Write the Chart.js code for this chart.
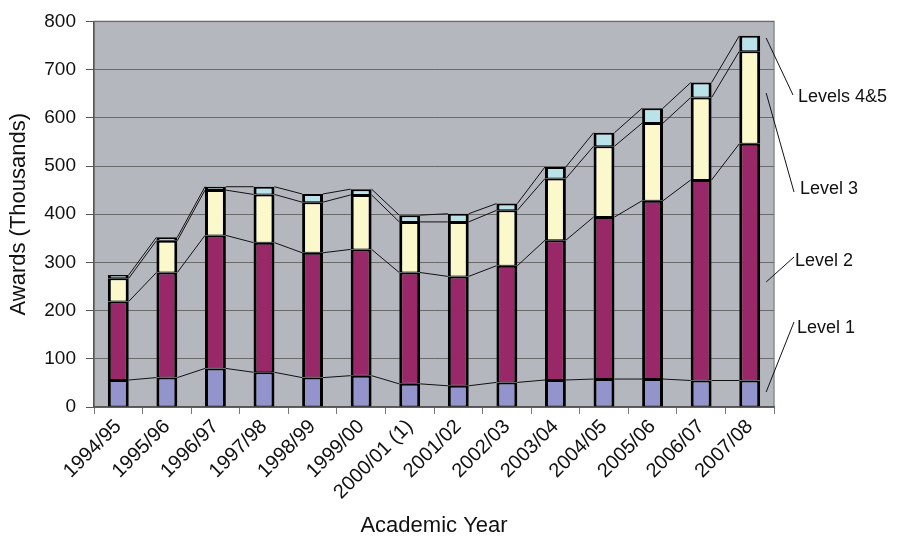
<!DOCTYPE html>
<html>
<head>
<meta charset="utf-8">
<script src="https://cdn.jsdelivr.net/npm/chart.js@4/dist/chart.umd.min.js"></script>
<style>
  html, body { margin: 0; padding: 0; background: #ffffff; }
  #wrap { width: 905px; height: 543px; position: relative; }
</style>
</head>
<body>
<div id="wrap"><canvas id="c" width="905" height="543"></canvas></div>
<script>
// ---- data (thousands of awards) ----
const categories = ["1994/95","1995/96","1996/97","1997/98","1998/99","1999/00","2000/01 (1)","2001/02","2002/03","2003/04","2004/05","2005/06","2006/07","2007/08"];
const level1    = [56, 61, 80, 72, 61, 65, 48, 44, 51, 56, 58, 58, 55, 55];
const level2    = [163, 218, 276, 269, 259, 262, 231, 227, 242, 290, 336, 370, 416, 491];
const level3    = [48, 66, 94, 100, 105, 113, 105, 113, 115, 128, 147, 161, 171, 192];
const level45   = [7, 7, 7, 16, 17, 12, 14, 17, 14, 24, 28, 31, 31, 32];
const seriesNames = ["Level 1", "Level 2", "Level 3", "Levels 4&5"];
const yTicks = [0, 100, 200, 300, 400, 500, 600, 700, 800];

const FONT = "'Liberation Sans', Arial, sans-serif";

// plot-area background + border
const bgPlugin = {
  id: 'bg',
  beforeDraw(chart) {
    const {ctx, chartArea: a} = chart;
    ctx.save();
    ctx.fillStyle = '#b4b7be';
    ctx.fillRect(a.left, a.top, a.right - a.left, a.bottom - a.top);
    ctx.strokeStyle = '#8c8c8c';
    ctx.lineWidth = 1.5;
    ctx.strokeRect(a.left, a.top, a.right - a.left, a.bottom - a.top);
    ctx.restore();
  }
};

// Excel-style series lines joining the tops of stacked segments
const seriesLines = {
  id: 'serieslines',
  afterDatasetsDraw(chart) {
    const ctx = chart.ctx;
    ctx.save();
    ctx.strokeStyle = '#111';
    ctx.lineWidth = 1;
    chart.data.datasets.forEach((ds, di) => {
      const els = chart.getDatasetMeta(di).data;
      for (let i = 0; i < els.length - 1; i++) {
        const a = els[i], b = els[i + 1];
        ctx.beginPath();
        ctx.moveTo(a.x + a.width / 2, a.y);
        ctx.lineTo(b.x - b.width / 2, b.y);
        ctx.stroke();
      }
    });
    ctx.restore();
  }
};

// right-hand labels with leader lines
const labelPlugin = {
  id: 'sideLabels',
  afterDraw(chart) {
    const ctx = chart.ctx;
    const spec = [
      {di: 3, sy: 38,  ex: 793, ey: 95,  tx: 798, ty: 97},
      {di: 2, sy: 93,  ex: 794, ey: 192, tx: 800, ty: 189},
      {di: 1, sy: 282, ex: 794, ey: 257, tx: 795, ty: 261},
      {di: 0, sy: 392, ex: 794, ey: 322, tx: 797, ty: 328}
    ];
    ctx.save();
    ctx.strokeStyle = '#111';
    ctx.lineWidth = 1;
    ctx.fillStyle = '#111';
    ctx.font = '18px ' + FONT;
    ctx.textBaseline = 'middle';
    ctx.textAlign = 'left';
    spec.forEach(s => {
      const meta = chart.getDatasetMeta(s.di);
      const el = meta.data[meta.data.length - 1];
      const sx = el.x + el.width / 2 + 6;
      ctx.beginPath();
      ctx.moveTo(sx, s.sy);
      ctx.lineTo(s.ex, s.ey);
      ctx.stroke();
      ctx.fillText(seriesNames[s.di], s.tx, s.ty);
    });
    ctx.restore();
  }
};

const colors = ['#9494cc', '#982868', '#fbf8cc', '#b9e3e9'];
const values = [level1, level2, level3, level45];

new Chart(document.getElementById('c'), {
  type: 'bar',
  data: {
    labels: categories,
    datasets: values.map((v, i) => ({
      label: seriesNames[i],
      data: v,
      backgroundColor: colors[i],
      borderColor: '#000',
      borderWidth: { top: 2, bottom: 1, left: 3, right: 3 },
      borderSkipped: false,
      categoryPercentage: 0.86,
      barPercentage: 0.5
    }))
  },
  options: {
    responsive: false,
    animation: false,
    devicePixelRatio: 1,
    layout: { padding: { left: 6, right: 131, top: 18, bottom: 4 } },
    plugins: { legend: { display: false }, tooltip: { enabled: false } },
    scales: {
      x: {
        stacked: true,
        offset: true,
        grid: { offset: true, drawOnChartArea: false, drawTicks: true, tickLength: 7, color: '#777', lineWidth: 1 },
        border: { display: true, color: '#555', width: 1.5 },
        ticks: { minRotation: 45, maxRotation: 45, autoSkip: false, color: '#111', font: { family: FONT, size: 20 }, padding: 1 },
        title: { display: true, text: 'Academic Year', color: '#111', font: { family: FONT, size: 22 }, padding: { top: 0, bottom: 0 } },
        afterFit(s) { s.height = 132; }
      },
      y: {
        stacked: true,
        min: 0, max: 800,
        afterBuildTicks(s) { s.ticks = yTicks.map(v => ({ value: v })); },
        grid: { color: '#6a6a6a', lineWidth: 1, drawTicks: true, tickLength: 8, tickColor: '#555' },
        border: { display: true, color: '#555', width: 1.5 },
        ticks: { color: '#111', font: { family: FONT, size: 19 }, padding: 10 },
        title: { display: true, text: 'Awards (Thousands)', color: '#111', font: { family: FONT, size: 22 }, padding: { top: 0, bottom: 2 } },
        afterFit(s) { s.width = 88; }
      }
    }
  },
  plugins: [bgPlugin, seriesLines, labelPlugin]
});
</script>
</body>
</html>
